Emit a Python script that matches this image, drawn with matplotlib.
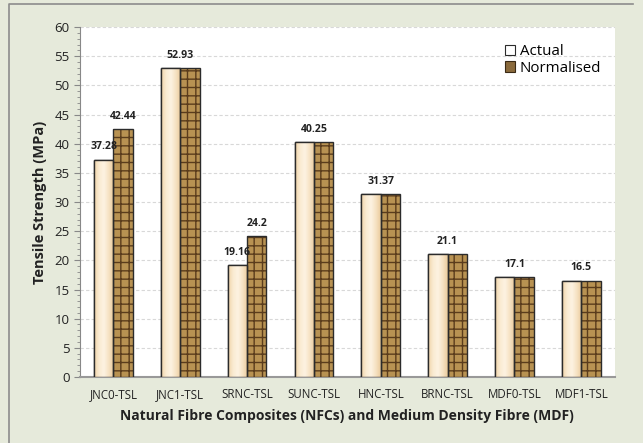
import matplotlib
matplotlib.use("Agg")
import matplotlib.pyplot as plt
import numpy as np
from matplotlib.colors import LinearSegmentedColormap
from matplotlib.patches import Rectangle, Patch
from matplotlib.lines import Line2D
from matplotlib.ticker import MultipleLocator

categories = ["JNC0-TSL", "JNC1-TSL", "SRNC-TSL", "SUNC-TSL", "HNC-TSL",
              "BRNC-TSL", "MDF0-TSL", "MDF1-TSL"]
actual = [37.28, 52.93, 19.16, 40.25, 31.37, 21.1, 17.1, 16.5]
normalised = [42.44, 52.93, 24.2, 40.25, 31.37, 21.1, 17.1, 16.5]
series_names = ["Actual", "Normalised"]
yticks = list(range(0, 61, 5))

plt.rcParams['font.family'] = ['Open Sans', 'DejaVu Sans']

fig = plt.figure(figsize=(6.43, 4.43), dpi=100)
fig.patch.set_facecolor('#E6EADB')
fig.add_artist(Line2D([0.014, 0.014, 0.985], [0.0, 0.99, 0.99], transform=fig.transFigure,
                      color='#8C8C8C', linewidth=1.2))
ax = fig.add_axes([0.1244, 0.149, 0.8316, 0.79])
ax.set_facecolor('white')

x = np.arange(len(categories))
w = 0.29

cream = LinearSegmentedColormap.from_list('cream', ['#EFD3A8', '#FAEBD2', '#FDF3E2', '#F6E2C3', '#EBCB9C'])
grad = np.linspace(0, 1, 64).reshape(1, -1)

bars_a = ax.bar(x - w / 2, actual, w, facecolor='#F8E6C8', edgecolor='#2B2B2B',
                linewidth=1.0, zorder=3)
for b in bars_a:
    x0, y0 = b.get_x(), b.get_y()
    im = ax.imshow(grad, extent=[x0, x0 + b.get_width(), y0, y0 + b.get_height()],
                   aspect='auto', cmap=cream, zorder=3.5, interpolation='bicubic')
    im.set_clip_path(b)
    b2 = Rectangle((x0, y0), b.get_width(), b.get_height(), fill=False,
                   edgecolor='#2B2B2B', linewidth=1.0, zorder=4)
    ax.add_patch(b2)

bars_n = ax.bar(x + w / 2, normalised, w, facecolor='#B89252', edgecolor='#5A3C1C',
                hatch='++', linewidth=0, zorder=3)
ax.bar(x + w / 2, normalised, w, fill=False, edgecolor='#2B2B2B', linewidth=1.0, zorder=4)

ax.set_xlim(-0.5, len(categories) - 0.5)
ax.set_ylim(0, 60)
ax.set_yticks(yticks)
ax.yaxis.set_minor_locator(MultipleLocator(1))
ax.set_xticks(x)
ax.set_xticklabels(categories, fontsize=8.3, color='#222222')
ax.tick_params(axis='y', labelsize=9.5, colors='#222222', length=4, color='#888888')
ax.tick_params(axis='y', which='minor', length=2, color='#888888')
ax.tick_params(axis='x', length=0, pad=8)
ax.grid(axis='y', color='#D8D8D8', linestyle=(0, (3, 2)), linewidth=0.8, zorder=0)
for s in ['top', 'right']:
    ax.spines[s].set_visible(False)
ax.spines['left'].set_color('#888888')
ax.spines['bottom'].set_color('#999999')
ax.spines['bottom'].set_linewidth(1.5)

lab_kw = dict(ha='center', va='center', fontsize=7.6, fontweight='bold', color='#222222', zorder=5)
for i, (a, n) in enumerate(zip(actual, normalised)):
    if abs(a - n) < 1e-9:
        ax.text(i, a + 2.2, f"{a:g}", **lab_kw)
    else:
        ax.text(i - w / 2, a + 2.2, f"{a:g}", **lab_kw)
        ax.text(i + w / 2, n + 2.2, f"{n:g}", **lab_kw)

ax.set_ylabel("Tensile Strength (MPa)", fontsize=10.5, fontweight='bold', color='#222222', labelpad=5)
ax.set_xlabel("Natural Fibre Composites (NFCs) and Medium Density Fibre (MDF)",
              fontsize=10, fontweight='bold', color='#222222', labelpad=6)

handles = [Patch(facecolor='white', edgecolor='#2B2B2B', linewidth=0.8),
           Patch(facecolor='#8A6A3C', edgecolor='#3A2A15', linewidth=0.8)]
ax.legend(handles, series_names, loc='upper right', bbox_to_anchor=(1.0, 0.99),
          frameon=False, fontsize=10.8, handlelength=0.7, handleheight=0.7,
          handletextpad=0.3, labelspacing=0.1)

fig.savefig("out.png", dpi=100, facecolor=fig.get_facecolor())
